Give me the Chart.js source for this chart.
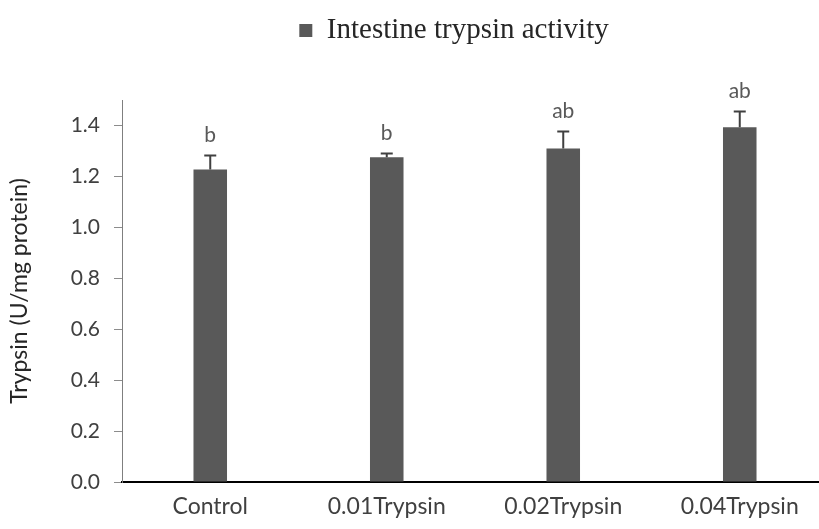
<!DOCTYPE html>
<html>
<head>
<meta charset="utf-8">
<script src="https://cdn.jsdelivr.net/npm/chart.js@4.4.1/dist/chart.umd.min.js"></script>
<style>
  html, body { margin: 0; padding: 0; background: #fff; }
  #wrap { width: 819px; height: 529px; overflow: hidden; position: relative; }
  #box { width: 830px; height: 529px; }
</style>
</head>
<body>
<div id="wrap"><div id="box"><canvas id="chartCanvas"></canvas></div></div>
<script>
// chart values
const categories = ["Control", "0.01Trypsin", "0.02Trypsin", "0.04Trypsin"];
const trypsinMeans = [1.227, 1.275, 1.31, 1.393];
const trypsinErrors = [0.055, 0.015, 0.066, 0.062];
const sigLetters = ["b", "b", "ab", "ab"];
const yTicks = [0, 0.2, 0.4, 0.6, 0.8, 1.0, 1.2, 1.4];

const barColor = "#595959";

// error bars + significance letters, placed through the y scale
const errorBarPlugin = {
    id: "errorBars",
    afterDatasetsDraw(chart) {
        const ctx = chart.ctx;
        const yScale = chart.scales.y;
        const meta = chart.getDatasetMeta(0);
        ctx.save();
        meta.data.forEach((bar, i) => {
            const top = yScale.getPixelForValue(trypsinMeans[i]);
            const capY = yScale.getPixelForValue(trypsinMeans[i] + trypsinErrors[i]);
            ctx.strokeStyle = "#404040";
            ctx.lineWidth = 2;
            ctx.beginPath();
            ctx.moveTo(bar.x, top);
            ctx.lineTo(bar.x, capY);
            ctx.moveTo(bar.x - 6, capY);
            ctx.lineTo(bar.x + 6, capY);
            ctx.stroke();

            ctx.fillStyle = "#595959";
            ctx.font = "21px Lato";
            ctx.textAlign = "center";
            ctx.textBaseline = "middle";
            ctx.fillText(sigLetters[i], bar.x, capY - 20);
        });
        ctx.restore();
    }
};

// the legend sits higher and a bit right of centre in the original
const legendShift = {
    id: "legendShift",
    afterLayout(chart) {
        const lg = chart.legend;
        lg.left += 40;
        lg.right += 40;
        lg.top -= 45;
        lg.bottom -= 45;
    }
};

new Chart("chartCanvas", {
    type: "bar",
    data: {
        labels: categories,
        datasets: [{
            label: "Intestine trypsin activity",
            data: trypsinMeans,
            backgroundColor: barColor,
            borderWidth: 0,
            barPercentage: 0.19,
            categoryPercentage: 1
        }]
    },
    options: {
        responsive: true,
        maintainAspectRatio: false,
        animation: false,
        layout: { padding: { top: 45, left: 0, right: 2, bottom: 0 } },
        plugins: {
            legend: {
                display: true,
                position: "top",
                labels: {
                    font: { family: "'Liberation Serif'", size: 29 },
                    color: "#262626",
                    boxWidth: 13,
                    boxHeight: 13,
                    padding: 16
                }
            },
            tooltip: { enabled: false }
        },
        scales: {
            x: {
                grid: { display: false, drawTicks: false },
                border: { color: "#000", width: 2 },
                ticks: {
                    font: { family: "Lato", size: 23 },
                    color: "#404040",
                    padding: 11
                },
                afterFit(scale) { scale.height = 47; }
            },
            y: {
                min: 0,
                max: 1.5,
                border: { color: "#7f7f7f", width: 1 },
                grid: {
                    drawOnChartArea: false,
                    drawTicks: true,
                    tickLength: 8,
                    color: "#8c8c8c"
                },
                afterBuildTicks(scale) {
                    scale.ticks = yTicks.map(v => ({ value: v }));
                },
                ticks: {
                    font: { family: "Lato", size: 21 },
                    color: "#404040",
                    padding: 14,
                    callback: v => Number(v).toFixed(1)
                },
                title: {
                    display: true,
                    text: "Trypsin (U/mg protein)",
                    font: { family: "Lato", size: 23 },
                    color: "#262626",
                    padding: { top: 6, bottom: 4 }
                },
                afterFit(scale) { scale.width = 122; }
            }
        }
    },
    plugins: [errorBarPlugin, legendShift]
});
</script>
</body>
</html>
